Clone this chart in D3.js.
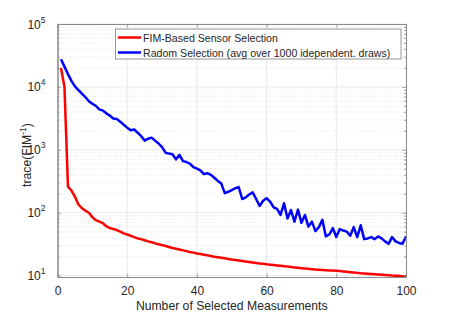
<!DOCTYPE html>
<html>
<head>
<meta charset="utf-8">
<script src="https://cdn.jsdelivr.net/npm/d3@7"></script>
<style>
  body { margin: 0; background: #fff; }
  svg text { font-family: "Liberation Sans", Arial, Helvetica, sans-serif; fill: #262626; }
</style>
</head>
<body>
<div id="chart"></div>
<script>
// Dados
const measurements = d3.range(1, 101);

const fimBased = [
  20000, 10000, 260, 225, 180, 135, 118, 108, 100, 85,
  76, 72, 68, 61, 57, 55, 53, 50, 47, 45,
  43, 41, 39, 38, 36.5, 35, 34, 32.5, 31.5, 30.5,
  29.5, 28.5, 27.5, 26.8, 26, 25.2, 24.5, 23.8, 23.2, 22.5,
  22, 21.5, 21, 20.5, 20, 19.6, 19.2, 18.8, 18.4, 18,
  17.7, 17.4, 17.1, 16.8, 16.5, 16.2, 15.9, 15.6, 15.4, 15.1,
  14.9, 14.7, 14.5, 14.3, 14.1, 13.9, 13.7, 13.5, 13.3, 13.1,
  12.95, 12.8, 12.65, 12.5, 12.4, 12.3, 12.2, 12.1, 12.0, 11.9,
  11.8, 11.65, 11.5, 11.35, 11.2, 11.05, 10.9, 10.8, 10.7, 10.6,
  10.5, 10.4, 10.3, 10.2, 10.1, 10.0, 9.95, 9.9, 9.8, 9.7
];

const randomSel = [
  27500, 21000, 16000, 12500, 10200, 8900, 7800, 6900, 5900, 5400,
  5000, 4400, 4200, 3800, 3500, 3150, 3100, 2800, 2500, 2250,
  2050, 2100, 1870, 1650, 1400, 1500, 1560, 1400, 1260, 1100,
  900, 870, 850, 705, 830, 660, 640, 600, 530, 500,
  470, 410, 425, 400, 360, 320, 290, 205, 215, 228,
  245, 255, 165, 175, 195, 210, 165, 128, 155, 170,
  150, 122, 115, 92, 141, 81, 110, 72, 112, 69,
  92, 60, 72, 51, 59, 77, 42, 45, 57, 41,
  55, 52, 50, 43, 59, 41, 63, 38, 39, 41,
  38, 42, 39, 35, 32, 41, 35, 33, 32, 42
];

const xTicks = [0, 20, 40, 60, 80, 100];
const yTicks = [10, 100, 1000, 10000, 100000];
const legendLabels = ["FIM-Based Sensor Selection", "Radom Selection (avg over 1000 idependent. draws)"];

// Tamanho
const width = 450, height = 313;
const margin = { top: 24, right: 44, bottom: 36, left: 57.5 };
const w = width - margin.left - margin.right;
const h = height - margin.top - margin.bottom;

const svg = d3.select("#chart").append("svg")
  .attr("width", width).attr("height", height);
const g = svg.append("g").attr("transform", `translate(${margin.left},${margin.top})`);

const x = d3.scaleLinear().domain([0, 100]).range([0, w]);
const y = d3.scaleLog().domain([9.5, 100000]).range([h, 0]);

// ticks menores
const minorY = [];
[10, 100, 1000, 10000].forEach(d => { for (let k = 2; k <= 9; k++) minorY.push(d * k); });
minorY.push(9.5 < 9 ? 9 : null);
const minor = minorY.filter(v => v && v >= 9.5 && v <= 100000);

// grade
g.append("g").selectAll("line").data(minor).enter().append("line")
  .attr("x1", 0).attr("x2", w).attr("y1", d => y(d)).attr("y2", d => y(d))
  .attr("stroke", "#d8d8d8").attr("stroke-width", 0.6).attr("stroke-dasharray", "1,1.5");
g.append("g").selectAll("line").data(yTicks).enter().append("line")
  .attr("x1", 0).attr("x2", w).attr("y1", d => y(d)).attr("y2", d => y(d))
  .attr("stroke", "#e1e1e1").attr("stroke-width", 0.7);
g.append("g").selectAll("line").data(xTicks.slice(1, -1)).enter().append("line")
  .attr("x1", d => x(d)).attr("x2", d => x(d)).attr("y1", 0).attr("y2", h)
  .attr("stroke", "#e1e1e1").attr("stroke-width", 0.7);

// linhas
const line = d3.line().x((d, i) => x(measurements[i])).y(d => y(d));
g.append("path").datum(fimBased).attr("d", line)
  .attr("fill", "none").attr("stroke", "#ff0000").attr("stroke-width", 2.5).attr("stroke-linejoin", "round");
g.append("path").datum(randomSel).attr("d", line)
  .attr("fill", "none").attr("stroke", "#0000ff").attr("stroke-width", 2.5).attr("stroke-linejoin", "round");

// eixos
const axisColor = "#8a8a8a";
function styleAxis(sel) {
  sel.select(".domain").attr("stroke", axisColor).attr("stroke-width", 1);
  sel.selectAll(".tick line").attr("stroke", axisColor).attr("stroke-width", 0.8);
}

const xb = g.append("g").attr("transform", `translate(0,${h})`)
  .call(d3.axisBottom(x).tickValues(xTicks).tickSizeInner(-3.5).tickSizeOuter(0).tickPadding(9).tickFormat(d3.format("d")));
styleAxis(xb);
xb.selectAll("text").attr("font-size", "12px").attr("fill", "#262626");

const xt = g.append("g")
  .call(d3.axisTop(x).tickValues(xTicks).tickSizeInner(-3.5).tickSizeOuter(0).tickFormat(""));
styleAxis(xt);

const yl = g.append("g")
  .call(d3.axisLeft(y).tickValues(yTicks).tickSizeInner(-3.5).tickSizeOuter(0).tickFormat(""));
styleAxis(yl);
const ylm = g.append("g")
  .call(d3.axisLeft(y).tickValues(minor).tickSizeInner(-2).tickSizeOuter(0).tickFormat(""));
styleAxis(ylm);

const yr = g.append("g").attr("transform", `translate(${w},0)`)
  .call(d3.axisRight(y).tickValues(yTicks).tickSizeInner(-3.5).tickSizeOuter(0).tickFormat(""));
styleAxis(yr);
const yrm = g.append("g").attr("transform", `translate(${w},0)`)
  .call(d3.axisRight(y).tickValues(minor).tickSizeInner(-2).tickSizeOuter(0).tickFormat(""));
styleAxis(yrm);

// rótulos do eixo Y (10^n)
const ylab = g.append("g").selectAll("text").data(yTicks).enter().append("text")
  .attr("x", -12).attr("y", d => y(d) + 4.5)
  .attr("text-anchor", "end").attr("font-size", "12px");
ylab.append("tspan").text("10");
ylab.append("tspan").attr("font-size", "8.5px").attr("dy", "-6").text(d => Math.round(Math.log10(d)));

// títulos dos eixos
g.append("text").attr("x", w / 2).attr("y", h + 33)
  .attr("text-anchor", "middle").attr("font-size", "12.2px")
  .text("Number of Selected Measurements");

const yt = svg.append("text")
  .attr("transform", `translate(31,155) rotate(-90)`)
  .attr("text-anchor", "middle").attr("font-size", "12.2px");
yt.append("tspan").text("trace(FIM");
yt.append("tspan").attr("font-size", "8.5px").attr("dy", "-5").text("-1");
yt.append("tspan").attr("dy", "5").text(")");

// legenda
const colors = ["#ff0000", "#0000ff"];
const leg = svg.append("g").attr("transform", "translate(115.5,29)");
leg.append("rect").attr("width", 285.5).attr("height", 30)
  .attr("fill", "#fff").attr("stroke", "#7a7a7a").attr("stroke-width", 0.8);
legendLabels.forEach((t, i) => {
  const yy = 8.5 + i * 15;
  leg.append("line").attr("x1", 2.5).attr("x2", 25.5).attr("y1", yy).attr("y2", yy)
    .attr("stroke", colors[i]).attr("stroke-width", 2.5);
  leg.append("text").attr("x", 27.5).attr("y", yy + 4).attr("font-size", "10.6px").text(t);
});
</script>
</body>
</html>
